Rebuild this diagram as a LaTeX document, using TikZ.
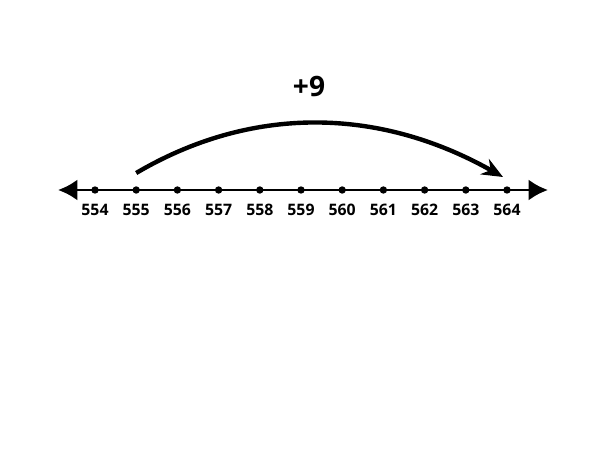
\documentclass[tikz,border=0pt]{standalone}
\usepackage{fontspec}
\setmainfont{Open Sans}
\usetikzlibrary{arrows.meta}
\begin{document}
\begin{tikzpicture}[
		x=0.02cm, y=-0.02cm,
		tick/.style={circle,fill,inner sep=0pt,minimum size=4.2pt},
		num/.style={font=\bfseries\fontsize{9}{10}\selectfont},
		axis/.style={line width=1.7pt,{Latex[length=11pt,width=12pt]}-{Latex[length=11pt,width=12pt]}},
		jump/.style={line width=2.5pt,-{Stealth[length=12pt,width=10pt,inset=4pt]}}
	]
	\useasboundingbox (0,0) rectangle (600,450);
	\coordinate (left) at (58,190);
	\coordinate (right) at (548,190);
	\draw[axis] (left) -- (right);
	\foreach \n in {554,...,564} {
		\node[tick] (t\n) at ({95+41.2*(\n-554)},190) {};
		\node[num] (l\n) at ({95+41.2*(\n-554)},210) {\n};
	}
	\node[font=\bfseries\fontsize{16}{18}\selectfont] (plus) at (309,86) {+9};
	\draw[jump] ([shift={(0,-17)}]t555.center) .. controls (250,106) and (377,106) .. ([shift={(-4,-13)}]t564.center);
\end{tikzpicture}
\end{document}
